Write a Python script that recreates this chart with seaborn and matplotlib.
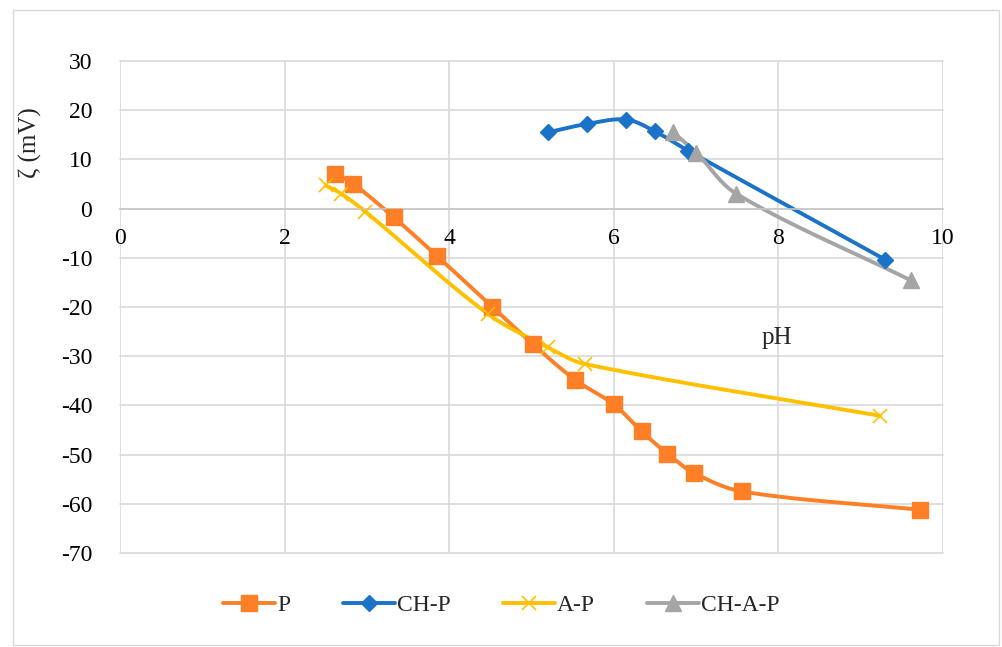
import numpy as np
import pandas as pd
import seaborn as sns
import matplotlib.pyplot as plt
from matplotlib.lines import Line2D
from matplotlib.patches import Rectangle

# data
p_ph = [2.61, 2.83, 3.33, 3.85, 4.52, 5.02, 5.53, 6.00, 6.34, 6.65, 6.97, 7.56, 9.72]
p_zeta = [7.1, 5.1, -1.8, -9.6, -19.9, -27.6, -34.8, -39.8, -45.3, -49.8, -53.7, -57.5, -61.2]

chp_ph = [5.20, 5.67, 6.15, 6.50, 6.90, 9.30]
chp_zeta = [15.5, 17.2, 18.1, 15.7, 11.8, -10.4]

ap_ph = [2.50, 2.69, 2.98, 4.47, 5.20, 5.65, 9.23]
ap_zeta = [4.7, 3.0, -0.6, -21.4, -28.2, -31.6, -42.1]

chap_ph = [6.72, 7.00, 7.49, 9.61]
chap_zeta = [15.5, 11.4, 3.0, -14.6]

series = [
    ("P", p_ph, p_zeta, "#FF7F27", "s", 11, 1),
    ("CH-P", chp_ph, chp_zeta, "#1A73C8", "D", 8.5, 1),
    ("A-P", ap_ph, ap_zeta, "#FFC000", "x", 10, 1.2),
    ("CH-A-P", chap_ph, chap_zeta, "#A5A5A5", "^", 11, 1),
]

YSCALE = 4.92 / 82.3  # y units -> same screen size as x units


def smooth(xs, ys, n=30):
    # smoothed line through the points, tangents scaled by chord length
    pts = np.column_stack([xs, np.asarray(ys) * YSCALE])
    p = np.vstack([pts[0], pts, pts[-1]])
    segs = []
    t = np.linspace(0, 1, n)[:, None]
    for i in range(1, len(p) - 2):
        p0, p1, p2, p3 = p[i - 1], p[i], p[i + 1], p[i + 2]
        d = np.linalg.norm(p2 - p1)
        u1 = (p2 - p0) / np.linalg.norm(p2 - p0)
        u2 = (p3 - p1) / np.linalg.norm(p3 - p1)
        c1 = p1 + u1 * d / 3
        c2 = p2 - u2 * d / 3
        segs.append((1 - t) ** 3 * p1 + 3 * (1 - t) ** 2 * t * c1
                    + 3 * (1 - t) * t ** 2 * c2 + t ** 3 * p2)
    out = np.vstack(segs)
    out[:, 1] /= YSCALE
    return out


sns.set_theme(style="whitegrid")
plt.rcParams['font.family'] = ['Liberation Serif', 'DejaVu Serif']
plt.rcParams['axes.unicode_minus'] = False
fs = 17

fig = plt.figure(figsize=(10.03, 6.47), dpi=100)
ax = fig.add_axes([0.1196, 0.1453, 0.8206, 0.7604])

handles = []
for name, xs, ys, col, mk, ms, mew in series:
    cur = smooth(xs, ys)
    df_line = pd.DataFrame({"x": cur[:, 0], "y": cur[:, 1]})
    sns.lineplot(data=df_line, x="x", y="y", ax=ax, color=col, lw=2.8,
                 sort=False, estimator=None)
    df_pts = pd.DataFrame({"x": xs, "y": ys})
    if mk == "x":
        ax.plot(df_pts["x"], df_pts["y"], ls="none", marker="x", ms=ms,
                mew=mew, color=col, zorder=3)
    else:
        ax.plot(df_pts["x"], df_pts["y"], ls="none", marker=mk, ms=ms,
                mec=col, mfc=col, zorder=3)
    handles.append(Line2D([], [], color=col, lw=2.8, marker=mk, ms=ms,
                          mew=mew, mfc=col, mec=col, label=name))

ax.set_xlim(0, 10)
ax.set_ylim(-70, 30)
ax.set_xticks(range(0, 11, 2))
ax.set_yticks(range(-70, 31, 10))
ax.grid(True, color="#d9d9d9", lw=1.2)
for gl in ax.get_xgridlines() + ax.get_ygridlines():
    gl.set_clip_on(False)
for s in ["left", "right", "top"]:
    ax.spines[s].set_visible(False)
ax.spines["bottom"].set_position(("data", 0))
ax.spines["bottom"].set_color("#c8c8c8")
ax.spines["bottom"].set_linewidth(1.2)
ax.tick_params(axis="x", length=0, pad=14, labelsize=fs, colors="black")
ax.tick_params(axis="y", length=0, pad=20, labelsize=fs, colors="black")

ax.set_xlabel("pH", fontsize=fs + 1)
ax.xaxis.set_label_coords(0.798, 0.46)
ax.set_ylabel("ζ (mV)", fontsize=fs + 1)
ax.yaxis.set_label_coords(-0.095, 0.835)

fig.legend(handles=handles, loc="center", bbox_to_anchor=(0.5, 1 - 605 / 647),
           ncol=4, frameon=False, fontsize=fs, handlelength=2.2,
           handletextpad=0.1, columnspacing=2.2)

fig.patches.append(Rectangle((13 / 1003, 2 / 647), 986 / 1003, 635 / 647,
                             transform=fig.transFigure, fill=False,
                             edgecolor="#d9d9d9", lw=1))

fig.savefig("out.png", dpi=100, facecolor="white")
